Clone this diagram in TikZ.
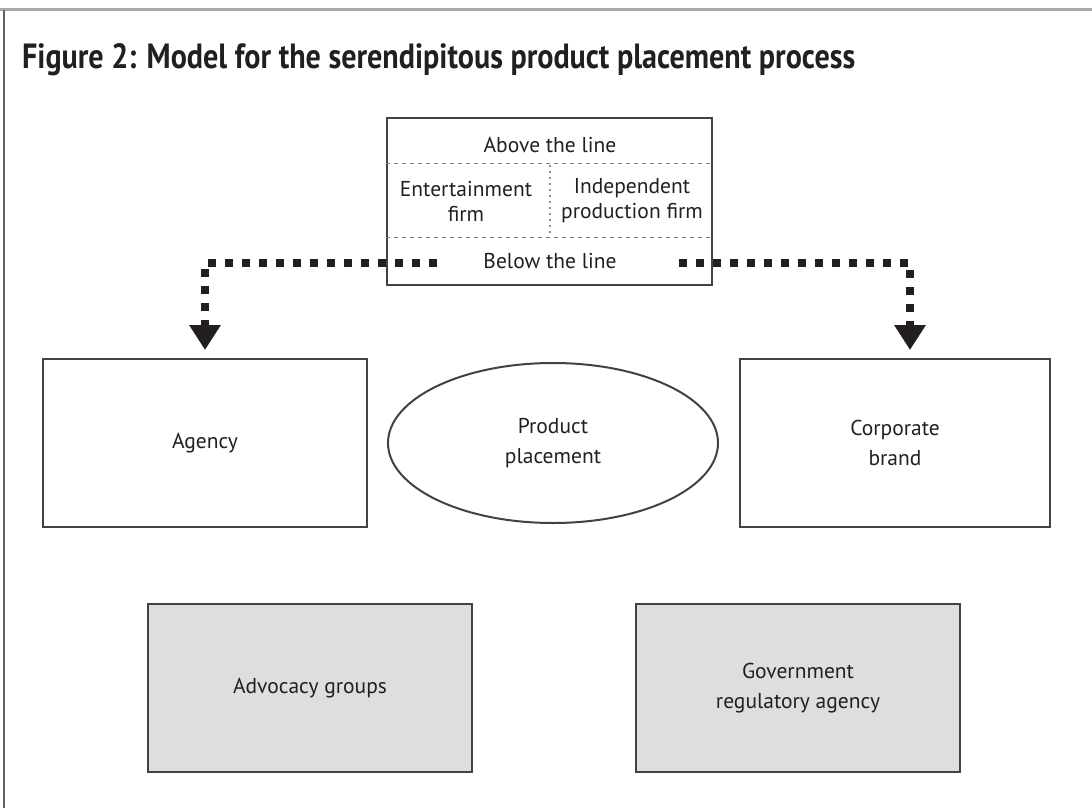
\documentclass[tikz,border=0pt]{standalone}
\usepackage{fontspec}
\setmainfont{PT Sans}
\newfontfamily\titlefont{PT Sans}[FakeStretch=0.86]
\usetikzlibrary{arrows.meta,shapes.geometric}
\definecolor{ink}{HTML}{231F20}
\definecolor{boxgrey}{HTML}{DEDEDE}
\definecolor{framegrey}{HTML}{A8A8A8}
\begin{document}
\begin{tikzpicture}[x=1pt,y=-1pt,
  every node/.style={text=ink,font=\fontsize{21.5}{25}\selectfont,align=center},
  bigtext/.style={font=\fontsize{21.5}{30.5}\selectfont},
  plainbox/.style={draw=ink!85,line width=2pt,minimum width=324pt,minimum height=168pt,inner sep=0pt,bigtext},
  greybox/.style={plainbox,fill=boxgrey},
  dotline/.style={draw=ink,line width=8pt,dash pattern=on 8pt off 9pt,
     -{Triangle[width=30pt,length=25pt]}}]
\useasboundingbox (0,0) rectangle (1092,808);
% frame
\draw[framegrey,line width=3pt] (0,10) -- (1092,10);
\draw[ink!70,line width=1.2pt] (4,10) -- (4,808);
% title
\node[anchor=base west,font=\titlefont\bfseries\fontsize{35}{38}\selectfont,inner sep=0pt] (title) at (22,68)
  {Figure 2: Model for the serendipitous product placement process};
% top box
\node[draw=ink!85,line width=2pt,minimum width=325pt,minimum height=167pt,inner sep=0pt] (top) at (549.5,201.5) {};
\draw[ink!60,line width=1pt,dash pattern=on 4pt off 4pt] (top.west |- 0,163) -- (top.east |- 0,163);
\draw[ink!60,line width=1pt,dash pattern=on 4pt off 4pt] (top.west |- 0,237) -- (top.east |- 0,237);
\draw[ink!50,line width=1.5pt,dash pattern=on 2pt off 4pt] (550,165) -- (550,235);
\node (above) at (550,145) {Above the line};
\node (ent) at (466,201) {Entertainment\\firm};
\node (ind) at (632,201) {Independent\\production firm};
\node (below) at (550,261) {Below the line};
% boxes
\node[plainbox] (agency) at (205,443) {Agency};
\node[draw=ink!85,line width=2pt,ellipse,minimum width=330pt,minimum height=160pt,inner sep=0pt,bigtext] (pp) at (553,443) {Product\\placement};
\node[plainbox,minimum width=310pt] (corp) at (895,443) {Corporate\\brand};
\node[greybox] (adv) at (310,688) {Advocacy groups};
\node[greybox] (gov) at (798,688) {Government\\regulatory agency};
% connectors
\coordinate (sl) at (437,263);
\coordinate (sr) at (679,263);
\draw[dotline,shorten >=9pt] (sl) -| (205,359) coordinate (al);
\draw[dotline,shorten >=9pt] (sr) -| (910,359) coordinate (ar);
\end{tikzpicture}
\end{document}
